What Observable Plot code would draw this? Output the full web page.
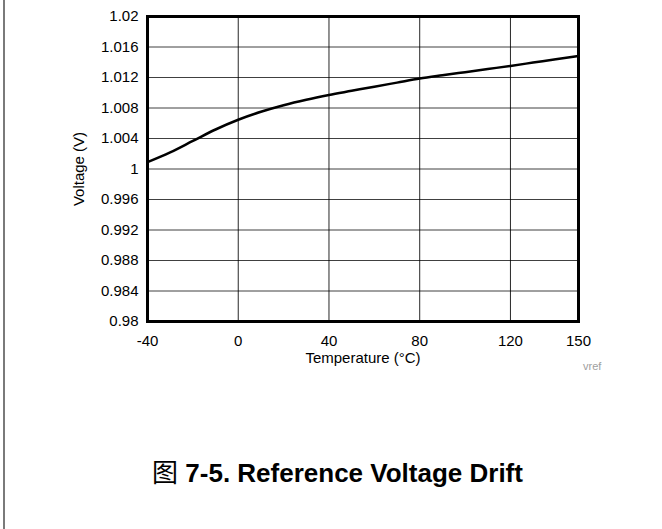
<!DOCTYPE html>
<html>
<head>
<meta charset="utf-8">
<script src="https://cdn.jsdelivr.net/npm/d3@7"></script>
<script src="https://cdn.jsdelivr.net/npm/@observablehq/plot@0.6"></script>
<style>
  html, body { margin: 0; padding: 0; background: #fff; }
  body { width: 662px; height: 529px; position: relative; overflow: hidden; font-family: "Liberation Sans", Arial, sans-serif; }
  #chart { position: absolute; left: 0; top: 0; z-index: 1; }
  #frameLeft { position: absolute; left: 3px; top: 0; width: 2px; height: 529px; background: #7a7a7a; z-index: 2; }
  #vref { position: absolute; left: 583px; top: 360px; font-size: 11px; color: #a0a0a0; z-index: 2; }
  #caption { position: absolute; left: 0; width: 675px; top: 452px; text-align: center; font-size: 26px; font-weight: bold; color: #000; z-index: 2; }
  #caption .cjk { font-family: "Noto Sans CJK SC", sans-serif; font-weight: normal; }
</style>
</head>
<body>
<div id="chart"></div>
<div id="frameLeft"></div>
<div id="vref">vref</div>
<div id="caption"><span class="cjk">图</span> 7-5. Reference Voltage Drift</div>
<script>
const temperature = [-40, -30, -20, -10, 0, 10, 20, 30, 40, 50, 60, 70, 80, 90, 100, 110, 120, 130, 140, 150];
const voltage = [1.0009, 1.00218, 1.00368, 1.00518, 1.00646, 1.0075, 1.00836, 1.00908, 1.0097, 1.01025, 1.0108, 1.01133, 1.01186, 1.01229, 1.0127, 1.01311, 1.01352, 1.01396, 1.0144, 1.01483];
const xTicks = [-40, 0, 40, 80, 120, 150];
const xGrid = [0, 40, 80, 120];
const yTicks = [0.98, 0.984, 0.988, 0.992, 0.996, 1, 1.004, 1.008, 1.012, 1.016, 1.02];
const yGrid = [0.984, 0.988, 0.992, 0.996, 1, 1.004, 1.008, 1.012, 1.016];

const data = temperature.map((t, i) => ({t, v: voltage[i]}));
const fmt = d => String(+d.toFixed(3));

const chart = Plot.plot({
  width: 662,
  height: 380,
  marginLeft: 147,
  marginRight: 84,
  marginTop: 16,
  marginBottom: 59,
  style: {fontFamily: "'Liberation Sans', Arial, sans-serif", fontSize: "15px", color: "#000", background: "#fff"},
  x: {domain: [-40, 150]},
  y: {domain: [0.98, 1.02]},
  marks: [
    Plot.ruleX(xGrid, {stroke: "#000", strokeWidth: 1, strokeOpacity: 0.85}),
    Plot.ruleY(yGrid, {stroke: "#000", strokeWidth: 1, strokeOpacity: 0.75}),
    Plot.axisX({ticks: xTicks, tickSize: 0, tickPadding: 14, tickFormat: d => String(d), label: "Temperature (°C)", labelAnchor: "center", labelArrow: false, labelOffset: 41, fontSize: 15}),
    Plot.axisY({ticks: yTicks, tickSize: 0, tickPadding: 9, tickFormat: fmt, label: "Voltage (V)", labelAnchor: "center", labelArrow: false, labelOffset: 74, fontSize: 15}),
    Plot.line(data, {x: "t", y: "v", stroke: "#000", strokeWidth: 2.5, curve: "monotone-x"}),
    Plot.frame({stroke: "#000", strokeWidth: 3})
  ]
});
document.getElementById("chart").appendChild(chart);
</script>
</body>
</html>
